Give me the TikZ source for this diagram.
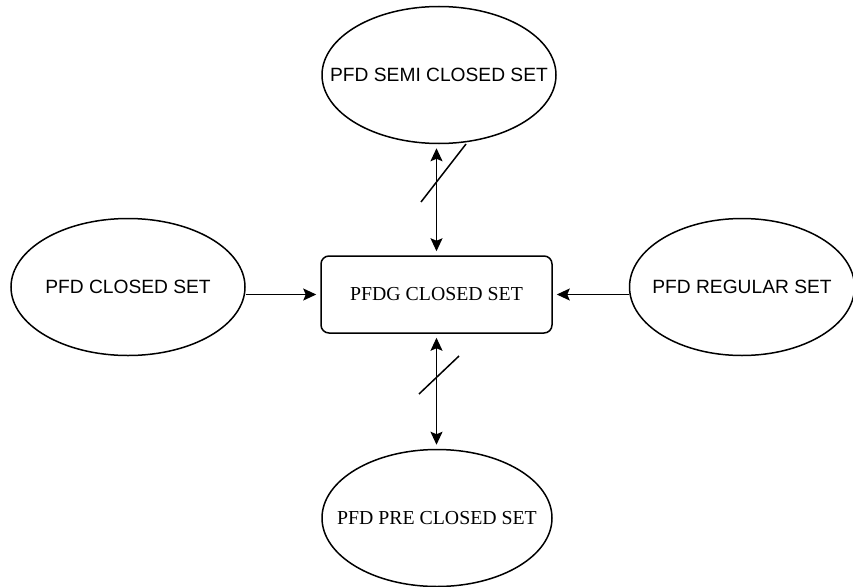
\documentclass[tikz,border=0pt]{standalone}
\usepackage{fontspec}
\setmainfont{Liberation Serif}
\setsansfont{Liberation Sans}
\usetikzlibrary{shapes.geometric, arrows.meta}

\begin{document}
\begin{tikzpicture}[x=1pt, y=-1pt, line width=1.5pt,
		setnode/.style={ellipse, draw, inner sep=0pt, minimum width=234pt, minimum height=137pt},
		sanslabel/.style={font=\sffamily\fontsize{19.2}{23}\selectfont},
		seriflabel/.style={font=\fontsize{19.8}{24}\selectfont},
		link/.style={-{Stealth[length=13pt, width=12pt, inset=2.5pt]}, shorten >=4pt},
		bilink/.style={{Stealth[length=13pt, width=12pt, inset=2.5pt]}-{Stealth[length=13pt, width=12pt, inset=2.5pt]}, shorten >=4pt, shorten <=4pt}]
	\useasboundingbox (0, 0) rectangle (853, 586);
	
	\node[draw, rounded corners=8pt, minimum width=231pt, minimum height=77pt, inner sep=0pt, seriflabel] (gclosed) at (436.5, 294.5) {PFDG CLOSED SET};
	
	\node[setnode, label={[sanslabel]center:PFD SEMI CLOSED SET}] (semi) at (439, 75) {};
	\node[setnode, label={[sanslabel]center:PFD CLOSED SET}] (closed) at (128, 287) {};
	\node[setnode, minimum width=225pt, label={[sanslabel]center:PFD REGULAR SET}] (regular) at (742, 287) {};
	\node[setnode, minimum width=230pt, label={[seriflabel]center:PFD PRE CLOSED SET}] (pre) at (437, 518) {};
	
	\draw[link] (closed.east |- gclosed.west) -- (gclosed.west);
	\draw[link] (regular.west |- gclosed.east) -- (gclosed.east);
	\draw[bilink] (semi.south -| gclosed.north) -- (gclosed.north);
	\draw[bilink] (gclosed.south) -- (gclosed.south |- pre.north);
	
	% not-arrows
	\draw (421, 202) -- (466, 144);
	\draw (419, 394) -- (459, 356);
\end{tikzpicture}
\end{document}
